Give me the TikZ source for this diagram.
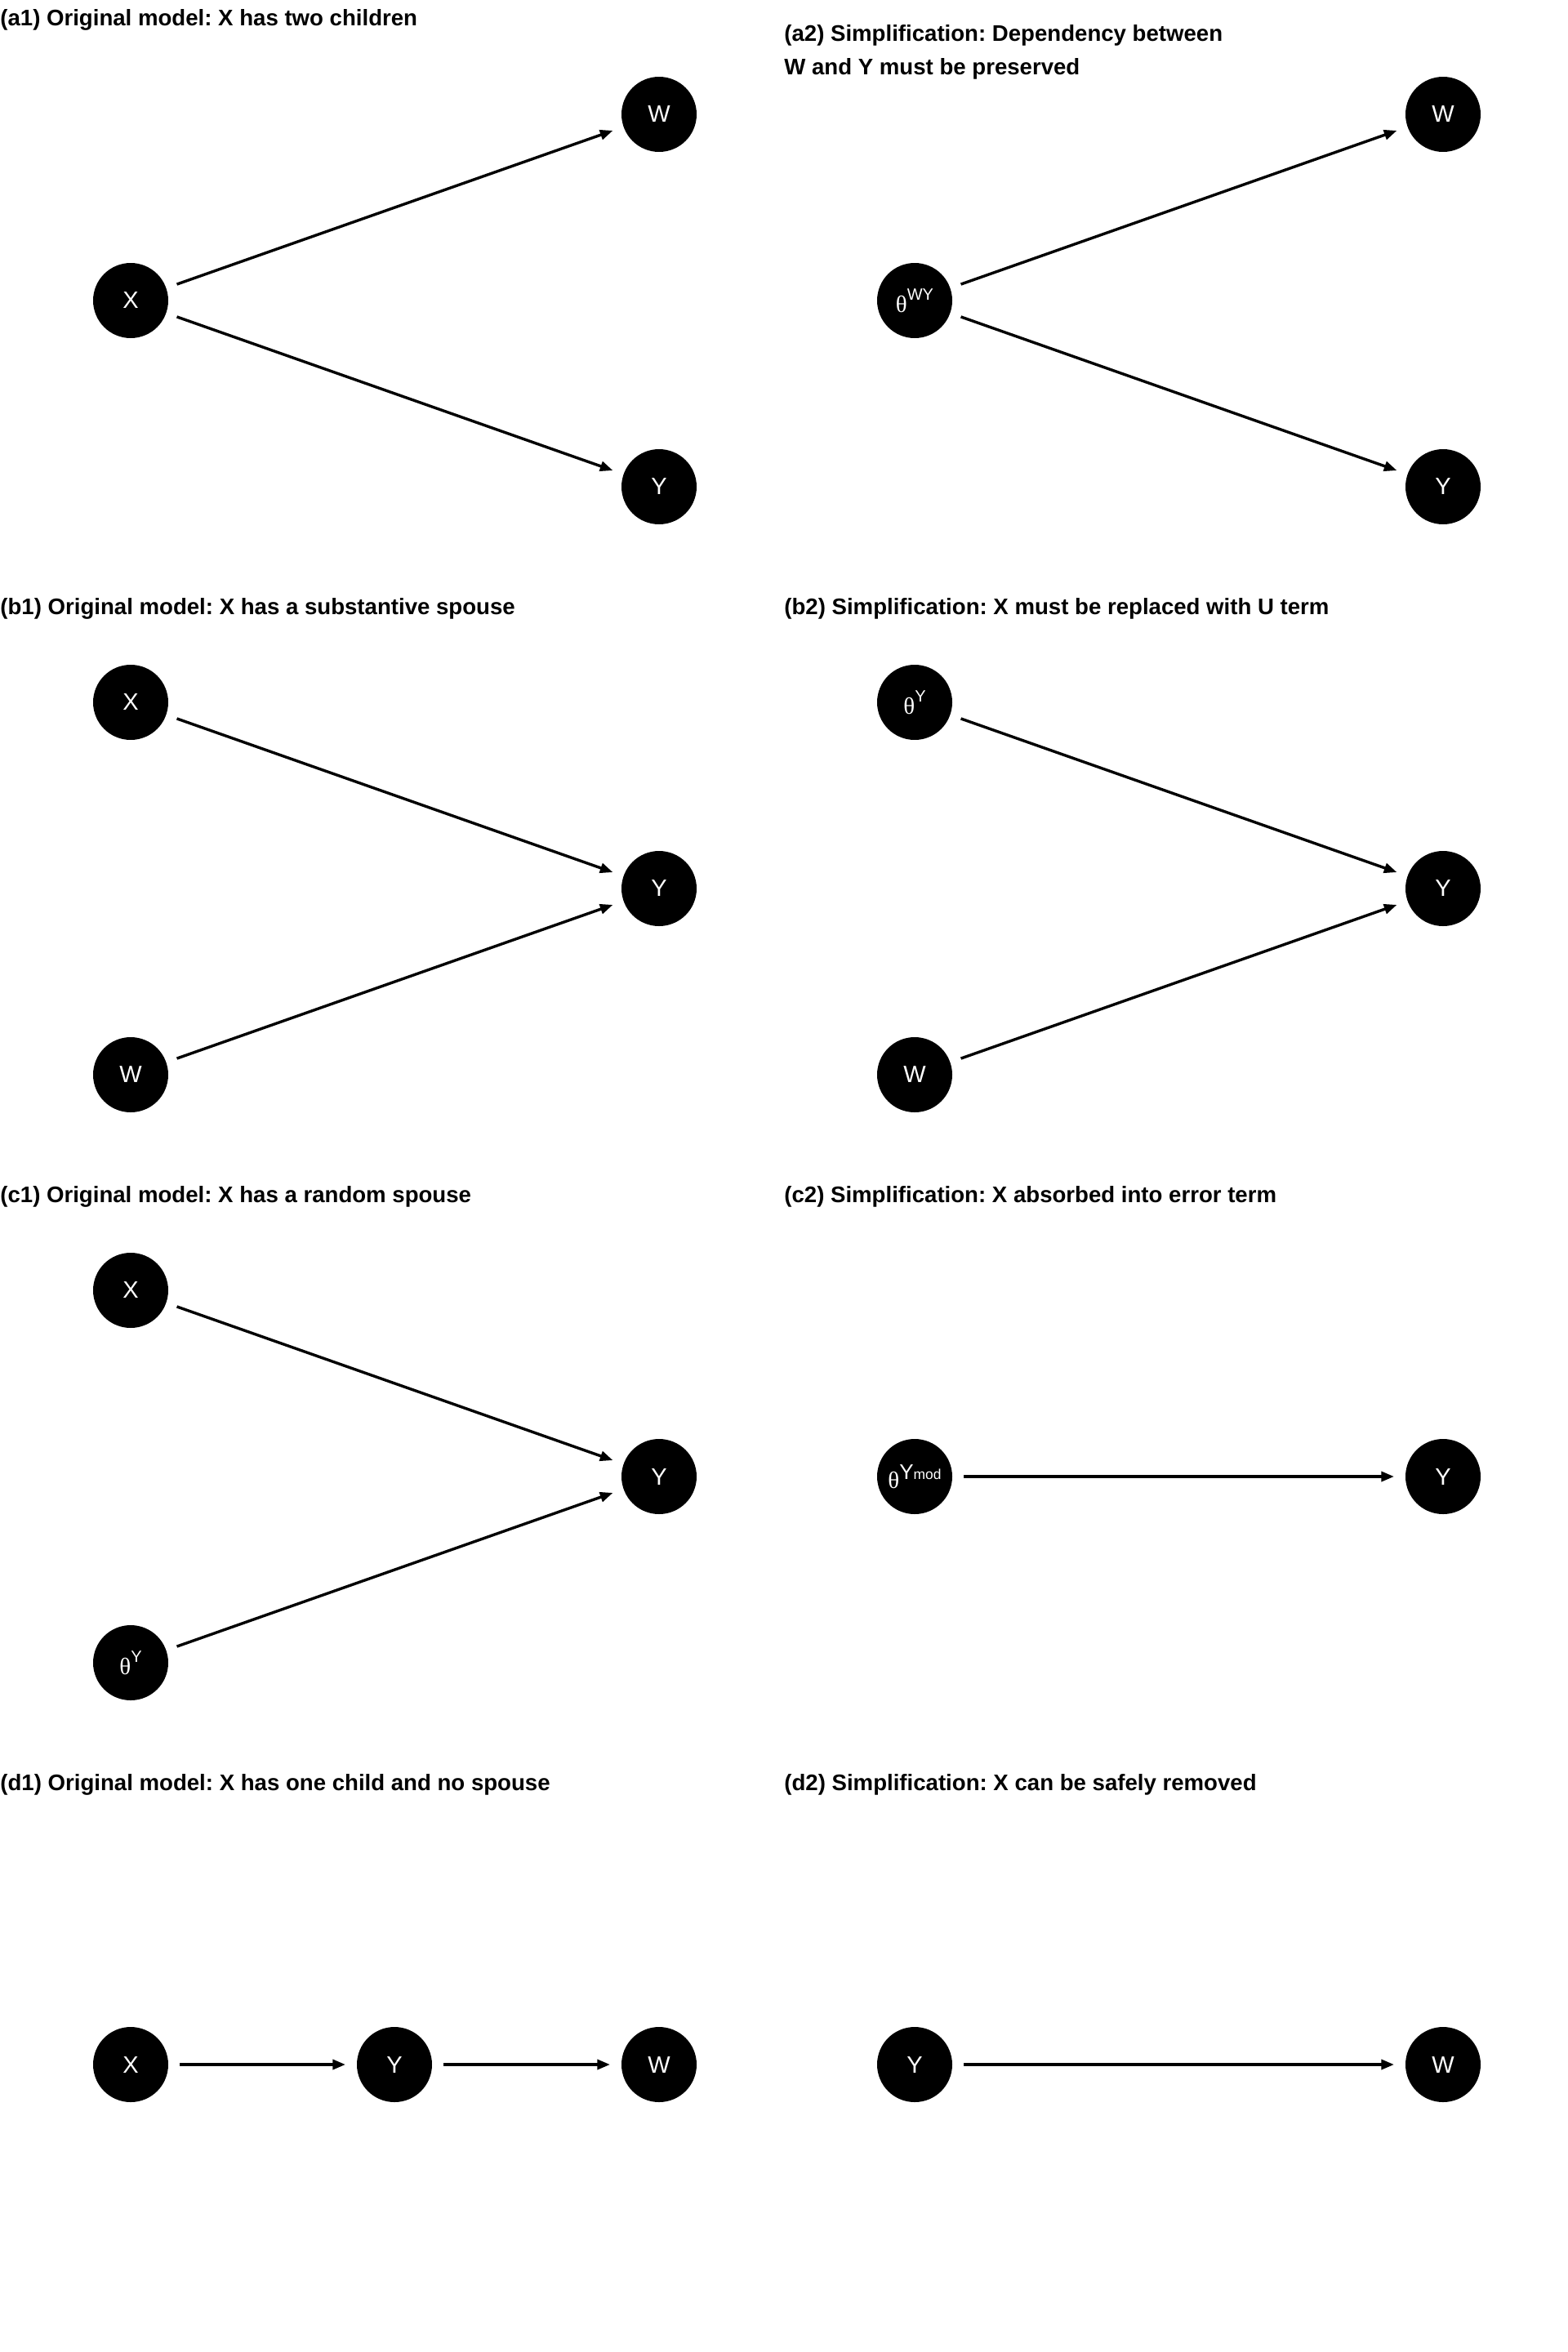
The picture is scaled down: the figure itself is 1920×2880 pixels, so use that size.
\documentclass[tikz,border=0pt]{standalone}
\usepackage{fontspec}
\setmainfont{Liberation Sans}
\newfontfamily\thetafont{Liberation Serif}
\usetikzlibrary{arrows.meta}
\frenchspacing

\newcommand{\thetaup}[1]{{\thetafont θ}\raisebox{7.5pt}{\fontsize{10}{10}\selectfont #1}}
\newcommand{\thetamod}{{\thetafont θ}\raisebox{5.6pt}{\fontsize{13}{13}\selectfont Y\fontsize{8.7}{9}\selectfont mod}}

\begin{document}
\begin{tikzpicture}[x=0.5pt, y=-0.5pt, font=\fontsize{14.5}{16}\selectfont]
    \tikzstyle{var}=[circle, fill=black, text=white, minimum size=46pt, inner sep=0pt, outer sep=0pt]
    \tikzstyle{edge}=[-{Triangle[length=7.8pt, width=6pt]}, line width=1.7pt, shorten <=7pt, shorten >=7pt]
    \tikzstyle{title}=[anchor=base west, inner sep=0pt, font=\bfseries\fontsize{13.8}{20.3}\selectfont]
    \useasboundingbox (0,0) rectangle (1920,2880);
    % (a) two children
    \node[title] (ta1) at (0,32) {(a1) Original model: X has two children};
    \node[var] (xa) at (160,368) {X};
    \node[var] (wa) at (807,140) {W};
    \node[var] (ya) at (807,596) {Y};
    \draw[edge] (xa) -- (wa);
    \draw[edge] (xa) -- (ya);
    \node[title, align=left] (ta2) at (960,91) {(a2) Simplification: Dependency between\\W and Y must be preserved};
    \node[var] (tha) at (1120,368) {\thetaup{WY}};
    \node[var] (wa2) at (1767,140) {W};
    \node[var] (ya2) at (1767,596) {Y};
    \draw[edge] (tha) -- (wa2);
    \draw[edge] (tha) -- (ya2);
    % (b) substantive spouse
    \node[title] (tb1) at (0,752) {(b1) Original model: X has a substantive spouse};
    \node[var] (xb) at (160,860) {X};
    \node[var] (yb) at (807,1088) {Y};
    \node[var] (wb) at (160,1316) {W};
    \draw[edge] (xb) -- (yb);
    \draw[edge] (wb) -- (yb);
    \node[title] (tb2) at (960,752) {(b2) Simplification: X must be replaced with U term};
    \node[var] (thb) at (1120,860) {\thetaup{Y}};
    \node[var] (yb2) at (1767,1088) {Y};
    \node[var] (wb2) at (1120,1316) {W};
    \draw[edge] (thb) -- (yb2);
    \draw[edge] (wb2) -- (yb2);
    % (c) random spouse
    \node[title] (tc1) at (0,1472) {(c1) Original model: X has a random spouse};
    \node[var] (xc) at (160,1580) {X};
    \node[var] (yc) at (807,1808) {Y};
    \node[var] (thc) at (160,2036) {\thetaup{Y}};
    \draw[edge] (xc) -- (yc);
    \draw[edge] (thc) -- (yc);
    \node[title] (tc2) at (960,1472) {(c2) Simplification: X absorbed into error term};
    \node[var] (thc2) at (1120,1808) {\thetamod};
    \node[var] (yc2) at (1767,1808) {Y};
    \draw[edge] (thc2) -- (yc2);
    % (d) one child, no spouse
    \node[title] (td1) at (0,2192) {(d1) Original model: X has one child and no spouse};
    \node[var] (xd) at (160,2528) {X};
    \node[var] (yd) at (483,2528) {Y};
    \node[var] (wd) at (807,2528) {W};
    \draw[edge] (xd) -- (yd);
    \draw[edge] (yd) -- (wd);
    \node[title] (td2) at (960,2192) {(d2) Simplification: X can be safely removed};
    \node[var] (yd2) at (1120,2528) {Y};
    \node[var] (wd2) at (1767,2528) {W};
    \draw[edge] (yd2) -- (wd2);
\end{tikzpicture}
\end{document}
